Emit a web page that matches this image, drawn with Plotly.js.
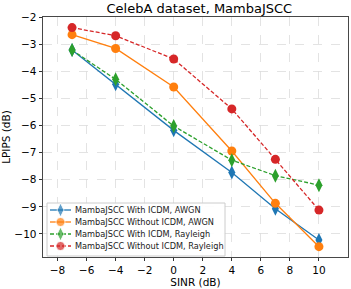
<!DOCTYPE html>
<html><head><meta charset="utf-8">
<script src="https://cdn.plot.ly/plotly-3.0.1.min.js"></script>
<style>html,body{margin:0;padding:0;background:#fff}#c{width:351px;height:289px}</style>
</head><body><div id="c"></div>
<script>
const sinr = [-7, -4, 0, 4, 7, 10];
const withIcdmAwgn = [-3.22, -4.48, -6.18, -7.73, -9.07, -10.22];
const withoutIcdmAwgn = [-2.65, -3.16, -4.58, -6.94, -8.87, -10.47];
const withIcdmRayleigh = [-3.22, -4.30, -6.02, -7.28, -7.85, -8.20];
const withoutIcdmRayleigh = [-2.39, -2.69, -3.55, -5.39, -7.25, -9.12];
const names = ["MambaJSCC With ICDM, AWGN","MambaJSCC Without ICDM, AWGN","MambaJSCC With ICDM, Rayleigh","MambaJSCC Without ICDM, Rayleigh"];
const xTicks = [-8,-6,-4,-2,0,2,4,6,8,10];
const yTicks = [-10,-9,-8,-7,-6,-5,-4,-3,-2];

const colors = ["#1f77b4","#ff7f0e","#2ca02c","#d62728"];
const series = [withIcdmAwgn, withoutIcdmAwgn, withIcdmRayleigh, withoutIcdmRayleigh];
const symbols = ["diamond-tall","circle","diamond-tall","circle"];
const dashes = ["solid","solid","4px,2px","4px,2px"];
const msize = s => s==="circle" ? 9 : 10;
const fmt = v => v<0 ? "\u2212"+(-v) : String(v);

const XR = [-9, 12], YR = [-10.85, -2];
const M = {l:43, r:3, t:17, b:32}, W = 351, H = 289;
const pw = W - M.l - M.r, ph = H - M.t - M.b;
const px2x = p => XR[0] + (p - M.l) / pw * (XR[1] - XR[0]);
const py2y = p => YR[0] + (H - M.b - p) / ph * (YR[1] - YR[0]);

const traces = series.map((ys,i)=>({
  x: sinr, y: ys, name: names[i], type:"scatter", mode:"lines+markers", showlegend:false,
  line:{color:colors[i], width:1.3, dash:dashes[i]},
  marker:{color:colors[i], symbol:symbols[i], size: msize(symbols[i])}
}));

// Compact legend (pixel positions converted to axis units)
const L = {x0:47, x1:225, y0:203, y1:256, row0:210, step:12, s0:50, s1:71, tx:73};
const annotations = [];
names.forEach((n,i)=>{
  const ry = py2y(L.row0 + i*L.step);
  traces.push({x:[px2x(L.s0),px2x((L.s0+L.s1)/2),px2x(L.s1)], y:[ry,ry,ry],
    type:"scatter", mode:"lines+markers", showlegend:false, hoverinfo:"skip", cliponaxis:false,
    line:{color:colors[i], width:1.3, dash:dashes[i]},
    marker:{color:colors[i], symbol:symbols[i], size:[0,msize(symbols[i]),0]}});
  annotations.push({xref:"x", yref:"y", x:px2x(L.tx), y:ry, text:n, showarrow:false,
    xanchor:"left", yanchor:"middle", font:{size:8.2, color:"#222"}});
});

const axisCommon = {showgrid:true, gridcolor:"#dcdcdc", griddash:"dash", gridwidth:0.8, zeroline:false,
  showline:true, mirror:true, linecolor:"#333", linewidth:0.9,
  ticks:"outside", ticklen:3.5, tickcolor:"#333", tickfont:{size:10.5}};

const layout = {
  width:W, height:H,
  margin:M,
  paper_bgcolor:"#fff", plot_bgcolor:"#fff",
  font:{family:"DejaVu Sans", color:"#000"},
  title:{text:"CelebA dataset, MambaJSCC", font:{size:13}, x:0.568, xanchor:"center", y:0.972, yanchor:"middle"},
  xaxis:Object.assign({}, axisCommon, {range:XR, tickvals:xTicks, ticktext:xTicks.map(fmt),
    title:{text:"SINR (dB)", font:{size:10.5}, standoff:1}}),
  yaxis:Object.assign({}, axisCommon, {range:YR, tickvals:yTicks, ticktext:yTicks.map(fmt),
    title:{text:"LPIPS (dB)", font:{size:10.5}, standoff:3}}),
  shapes:[{type:"rect", xref:"x", yref:"y", x0:px2x(L.x0), x1:px2x(L.x1), y0:py2y(L.y1), y1:py2y(L.y0),
    fillcolor:"rgba(255,255,255,0.9)", line:{color:"#cccccc", width:1}, layer:"between"}],
  annotations:annotations,
  showlegend:false
};
Plotly.newPlot("c", traces, layout, {staticPlot:true, displayModeBar:false});
</script></body></html>
